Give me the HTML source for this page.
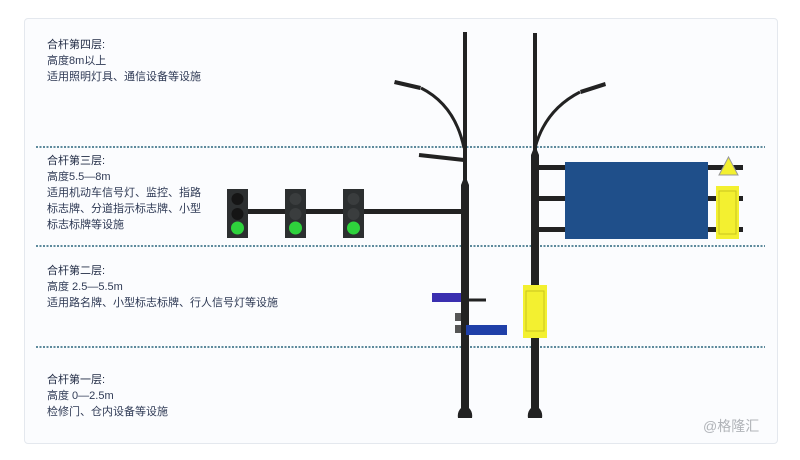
<!DOCTYPE html>
<html><head><meta charset="utf-8"><style>
body{margin:0;background:#fff;}
.wrap{position:relative;width:800px;height:460px;overflow:hidden;background:#fff;font-family:"Liberation Sans","Noto Sans CJK SC",sans-serif;}
.card{position:absolute;left:24px;top:18px;width:752px;height:424px;background:#fbfcfe;border:1px solid #e4e8ee;border-radius:4px;}
.t{position:absolute;left:47px;font-size:11px;line-height:16px;color:#2f3a55;}
.t b{font-weight:normal;color:#222c45;}
</style></head><body><div class="wrap">
<div class="card"></div>
<div class="t" style="top:37px"><b>合杆第四层:</b><br>高度8m以上<br>适用照明灯具、通信设备等设施</div>
<div class="t" style="top:153px"><b>合杆第三层:</b><br>高度5.5—8m<br>适用机动车信号灯、监控、指路<br>标志牌、分道指示标志牌、小型<br>标志标牌等设施</div>
<div class="t" style="top:263px"><b>合杆第二层:</b><br>高度 2.5—5.5m<br>适用路名牌、小型标志标牌、行人信号灯等设施</div>
<div class="t" style="top:372px"><b>合杆第一层:</b><br>高度 0—2.5m<br>检修门、仓内设备等设施</div>
<div style="position:absolute;left:703px;top:416px;font-size:14px;color:#b0b3b8">@格隆汇</div>
<svg width="800" height="460" style="position:absolute;left:0;top:0">
<g stroke="#5d8a9c" stroke-width="2" stroke-dasharray="2 1.5">
<line x1="36" y1="147" x2="765" y2="147"/><line x1="36" y1="246" x2="765" y2="246"/><line x1="36" y1="347" x2="765" y2="347"/>
</g>
<rect x="230" y="209" width="236" height="5" fill="#222"/>
<g fill="#2c2f30"><rect x="227" y="189" width="21" height="49"/><rect x="285" y="189" width="21" height="49"/><rect x="343" y="189" width="21" height="49"/></g>
<g fill="#151515"><circle cx="237.5" cy="199" r="6"/><circle cx="237.5" cy="214" r="6"/></g>
<g fill="#3a3d3e"><circle cx="295.5" cy="199" r="6"/><circle cx="295.5" cy="214" r="6"/><circle cx="353.5" cy="199" r="6"/><circle cx="353.5" cy="214" r="6"/></g>
<g fill="#2ed23c"><circle cx="237.5" cy="228" r="6.5"/><circle cx="295.5" cy="228" r="6.5"/><circle cx="353.5" cy="228" r="6.5"/></g>
<path d="M463 32 H467 V180 L469 185 V408 Q473 412 472 418 H458 Q457 412 461 408 V185 L463 180 Z" fill="#222"/>
<path d="M421 88 Q455 105 464 148" stroke="#222" stroke-width="3" fill="none"/>
<path d="M395 80 L421 86 L420 90 L394 84 Z" fill="#222"/>
<path d="M419 155 L464 160" stroke="#222" stroke-width="4"/>
<rect x="432" y="293" width="29" height="9" fill="#3a2fb0"/>
<path d="M467 300 L486 300" stroke="#222" stroke-width="3"/>
<rect x="455" y="313" width="6" height="8" fill="#555"/><rect x="455" y="325" width="6" height="8" fill="#555"/>
<rect x="466" y="325" width="41" height="10" fill="#1f3fa8"/>
<path d="M533 33 H537 V150 L539 155 V408 Q543 412 542 418 H528 Q527 412 531 408 V155 L533 150 Z" fill="#222"/>
<path d="M580 92 Q545 110 535 148" stroke="#222" stroke-width="3" fill="none"/>
<path d="M580 90 L605 82 L606 86 L581 94 Z" fill="#222"/>
<g fill="#222"><rect x="537" y="165" width="206" height="5"/><rect x="537" y="196" width="206" height="5"/><rect x="537" y="227" width="206" height="5"/></g>
<rect x="565" y="162" width="143" height="77" fill="#1f4f8a"/>
<rect x="716" y="186" width="23" height="53" fill="#f3f030"/>
<rect x="719" y="191" width="17" height="43" fill="none" stroke="#c8c420" stroke-width="1"/>
<path d="M719 175 L728.5 157 L738 175 Z" fill="#f3f030" stroke="#999" stroke-width="1"/>
<rect x="523" y="285" width="24" height="53" fill="#f3f030"/>
<rect x="526" y="291" width="18" height="40" fill="none" stroke="#c8c420" stroke-width="1"/>
</svg>
</div></body></html>
